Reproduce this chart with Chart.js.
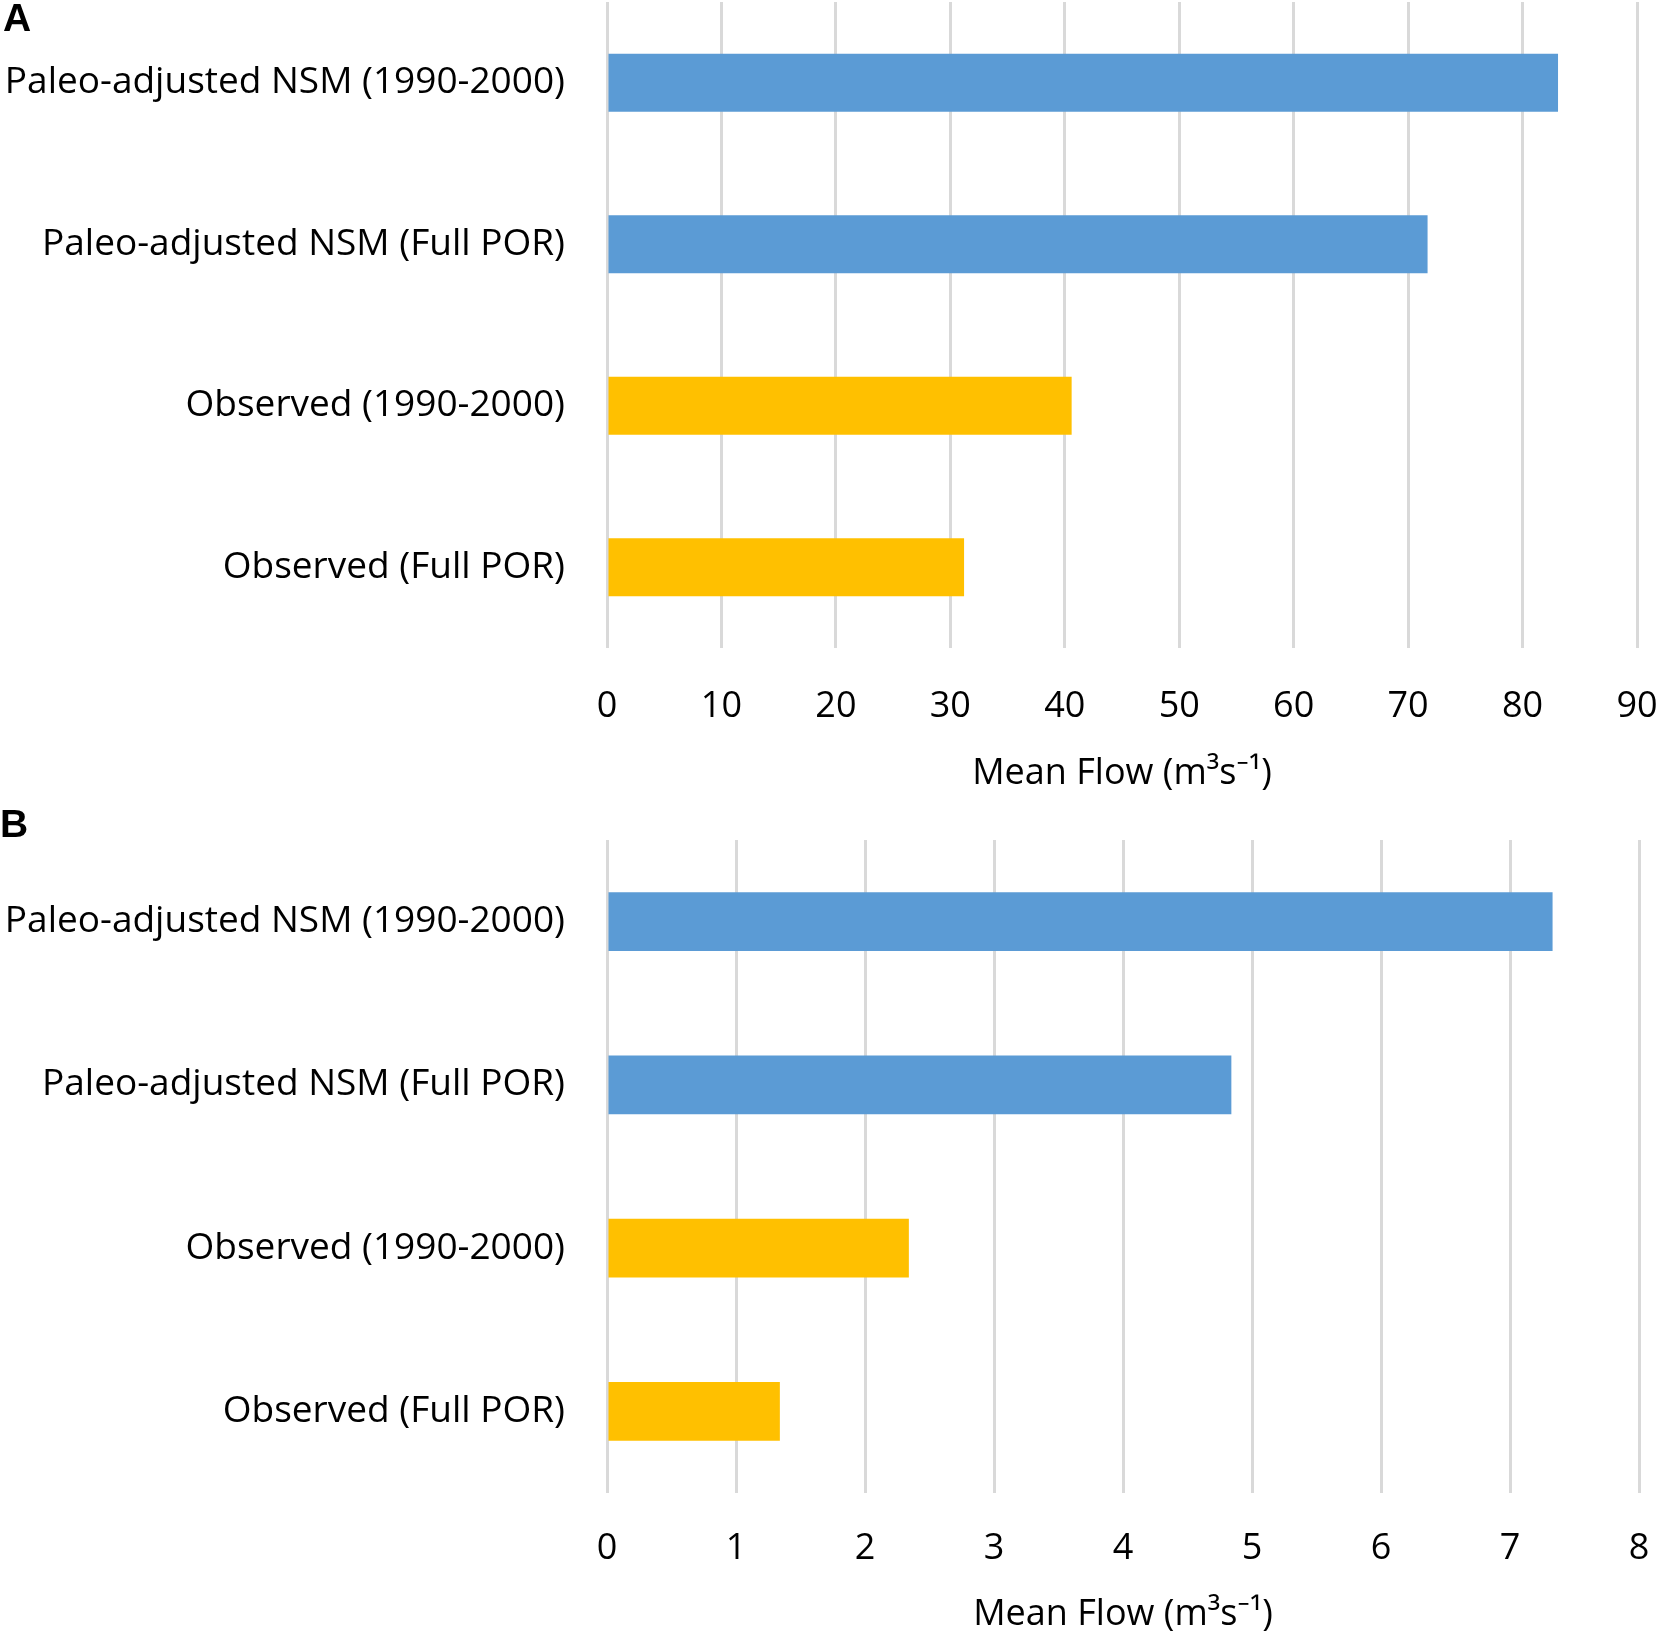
<!DOCTYPE html>
<html>
<head>
<meta charset="utf-8">
<script src="https://cdn.jsdelivr.net/npm/chart.js@4"></script>
<style>
  html, body { margin: 0; padding: 0; background: #fff; }
  .panel { position: absolute; left: 0; width: 1660px; }
  .letra { position: absolute; font-family: "Liberation Sans", Arial, sans-serif; font-weight: bold; font-size: 39px; line-height: 1; color: #000; }
</style>
</head>
<body>
<div class="panel" style="top:0; height:820px;"><canvas id="graficaA"></canvas></div>
<div class="panel" style="top:820px; height:819px;"><canvas id="graficaB"></canvas></div>
<div class="letra" style="left:3px; top:-2px;">A</div>
<div class="letra" style="left:0px; top:804px;">B</div>

<script>
// Datos
const categorias = [
  'Paleo-adjusted NSM (1990-2000)',
  'Paleo-adjusted NSM (Full POR)',
  'Observed (1990-2000)',
  'Observed (Full POR)'
];
const caudalA = [83.1, 71.7, 40.6, 31.2];   // panel A, m3/s
const caudalB = [7.33, 4.84, 2.34, 1.34];   // panel B, m3/s
const ejeA = { max: 90, paso: 10 };
const ejeB = { max: 8, paso: 1 };
const tituloEje = 'Mean Flow (m\u00B3s\u207B\u00B9)';

const colores = ['#5B9BD5', '#5B9BD5', '#FFC000', '#FFC000'];
const fuente = '"Open Sans", "Noto Sans", sans-serif';

// disposicion de cada panel (px)
const dispA = { top: 2, right: 23, altoEje: 172, hueco: 37, padTitulo: 25 };
const dispB = { top: 20, right: 21, altoEje: 146, hueco: 34, padTitulo: 3 };

function crearGrafica(canvas, valores, eje, disp) {
  return new Chart(canvas.getContext('2d'), {
    type: 'bar',
    data: {
      labels: categorias,
      datasets: [{
        data: valores,
        backgroundColor: colores,
        borderWidth: 0,
        categoryPercentage: 0.36,
        barPercentage: 1.0
      }]
    },
    options: {
      indexAxis: 'y',
      responsive: true,
      maintainAspectRatio: false,
      animation: false,
      devicePixelRatio: 1,
      layout: { padding: { top: disp.top, right: disp.right, left: 0, bottom: 0 } },
      scales: {
        x: {
          min: 0,
          max: eje.max,
          // el hueco bajo la rejilla va en tickLength (padding empuja el area del grafico)
          ticks: { stepSize: eje.paso, padding: 0, color: '#000', font: { family: fuente, size: 36 } },
          grid: { color: '#D9D9D9', lineWidth: 3, drawTicks: true, tickLength: disp.hueco, tickColor: 'rgba(0,0,0,0)' },
          border: { display: false },
          title: {
            display: true,
            text: tituloEje,
            color: '#000',
            font: { family: fuente, size: 36 },
            padding: { top: 0, bottom: disp.padTitulo }
          },
          afterFit: (s) => { s.height = disp.altoEje; }
        },
        y: {
          grid: { display: false, drawTicks: true, tickLength: 42 },
          border: { display: false },
          ticks: { padding: 0, color: '#000', font: { family: fuente, size: 37, lineHeight: 0.1 } },
          afterFit: (s) => { s.width = 607; }
        }
      },
      plugins: {
        legend: { display: false },
        tooltip: { enabled: false }
      }
    }
  });
}

crearGrafica(document.getElementById('graficaA'), caudalA, ejeA, dispA);
crearGrafica(document.getElementById('graficaB'), caudalB, ejeB, dispB);
</script>
</body>
</html>
